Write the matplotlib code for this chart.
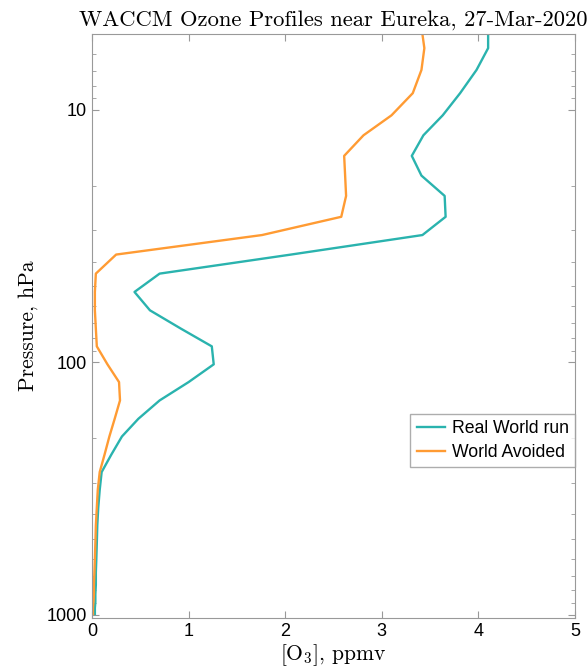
import matplotlib
matplotlib.use("Agg")
import matplotlib.pyplot as plt
from matplotlib.ticker import LogLocator, NullFormatter, FixedLocator

plt.rcParams['mathtext.fontset'] = 'cm'

# pressure levels (hPa) and ozone mixing ratios (ppmv)
pres = [4.7, 5.69, 6.94, 8.58, 10.5, 12.6, 15.2, 18.2, 21.9, 26.5, 31.3, 37.4,
        44.5, 52.6, 62.2, 73.5, 86.4, 101.8, 119.7, 141.5, 167.3, 196.6, 232,
        272, 320, 376, 442, 520, 600, 680, 760, 830, 890, 940, 993]
real_world = [4.10, 4.10, 3.98, 3.81, 3.63, 3.43, 3.31, 3.41, 3.65, 3.66, 3.42, 2.06,
              0.70, 0.44, 0.60, 0.92, 1.24, 1.26, 1.00, 0.70, 0.48, 0.31, 0.20,
              0.10, 0.08, 0.065, 0.055, 0.05, 0.045, 0.04, 0.04, 0.035, 0.035, 0.03, 0.03]
world_avoided = [3.41, 3.44, 3.41, 3.32, 3.10, 2.81, 2.61, 2.62, 2.63, 2.58, 1.76, 0.25,
                 0.04, 0.03, 0.03, 0.04, 0.05, 0.16, 0.28, 0.29, 0.235, 0.18, 0.13,
                 0.08, 0.06, 0.05, 0.04, 0.035, 0.03, 0.025, 0.02, 0.02, 0.015, 0.01, 0.01]

fig = plt.figure(figsize=(5.87, 6.69), dpi=100)
ax = fig.add_axes([0.1567, 0.0762, 0.823, 0.873])

ax.plot(real_world, pres, color='#2AB3AE', lw=1.7, label='Real World run')
ax.plot(world_avoided, pres, color='#FF9B33', lw=1.7, label='World Avoided')

ax.set_yscale('log')
ax.set_ylim(1030, 5)
ax.set_xlim(0, 5)
ax.yaxis.set_major_locator(FixedLocator([10, 100, 1000]))
ax.yaxis.set_minor_locator(LogLocator(base=10, subs=range(2, 10)))
ax.yaxis.set_minor_formatter(NullFormatter())
ax.set_yticklabels(['10', '100', '1000'])

for s in ax.spines.values():
    s.set_color('0.6')
ax.tick_params(which='both', direction='in', top=True, right=True,
               color='0.6', labelsize=13, labelcolor='black')
ax.tick_params(which='major', length=5)
ax.tick_params(which='minor', length=3)
for t in ax.get_xticklabels() + ax.get_yticklabels():
    t.set_family('Liberation Sans')

ax.set_title('WACCM Ozone Profiles near Eureka, 27-Mar-2020',
             family='cmr10', fontsize=16.3, pad=6)
ax.set_xlabel(r'$[\mathrm{O}_3]$, ppmv', family='cmr10', fontsize=15.5, labelpad=2)
ax.set_ylabel('Pressure, hPa', family='cmr10', fontsize=15.5, labelpad=6)

leg = ax.legend(loc='upper right', bbox_to_anchor=(1.0, 0.35),
                prop={'family': 'Liberation Sans', 'size': 12.7},
                fancybox=False, edgecolor='0.6', handlelength=1.6,
                borderpad=0.35, labelspacing=0.4, handletextpad=0.4,
                borderaxespad=0.0)

fig.savefig('out.png', dpi=100)
